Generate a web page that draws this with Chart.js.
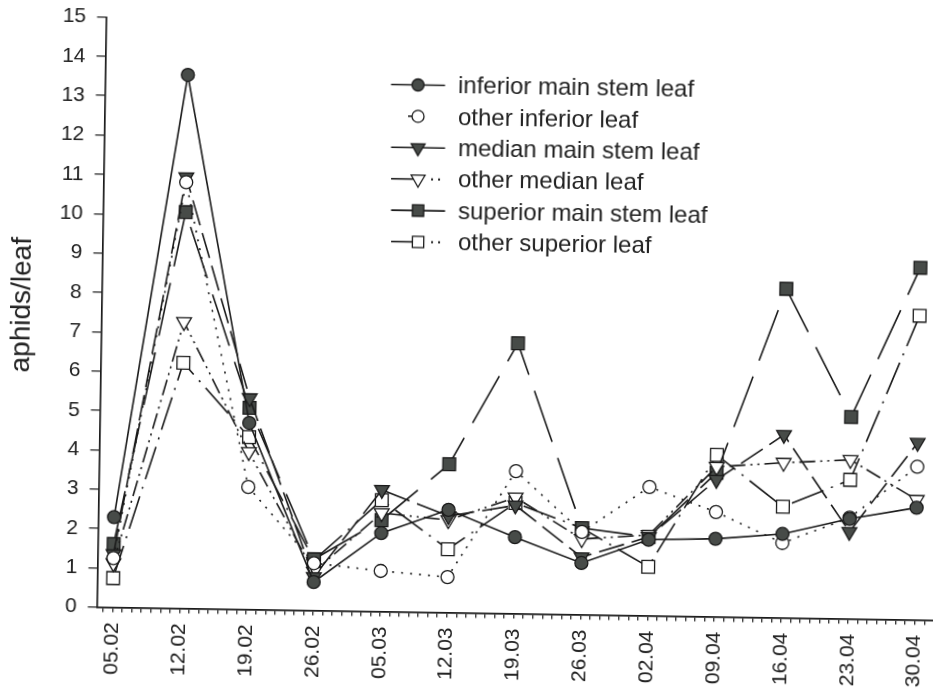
<!DOCTYPE html>
<html>
<head>
<meta charset="utf-8">
<script src="https://cdn.jsdelivr.net/npm/chart.js@4.4.1/dist/chart.umd.min.js"></script>
<style>
  html, body { margin: 0; padding: 0; background: #fff; }
  #wrap { position: relative; width: 933px; height: 695px; overflow: hidden; background: #fff; }
  /* the scanned original is turned a little clockwise */
  #chart { position: absolute; left: 0; top: 0; transform: rotate(0.9deg); transform-origin: 515px 312px; }
</style>
</head>
<body>
<div id="wrap"><canvas id="chart" width="950" height="695"></canvas></div>
<script>
// Sampling dates (one per week, day 0 = 05.02)
const dates = ['05.02', '12.02', '19.02', '26.02', '05.03', '12.03', '19.03', '26.03', '02.04', '09.04', '16.04', '23.04', '30.04'];
const yTicks = [0, 15];

// aphids per leaf
const inferiorMain  = [2.29, 13.56, 4.74, 0.72, 1.99, 2.61, 1.94, 1.31, 1.93, 1.98, 2.13, 2.54, 2.85];
const otherInferior = [1.25, 10.83, 3.11, 1.20, 1.03, 0.90, 3.62, 2.10, 3.27, 2.66, 1.90, 2.57, 3.89];
const medianMain    = [1.35, 10.96, 5.37, 0.85, 3.09, 2.45, 2.75, 1.46, 2.00, 3.48, 4.65, 2.21, 4.50];
const otherMedian   = [1.12, 7.28, 4.00, 0.98, 2.50, 2.35, 2.95, 1.92, 2.05, 3.81, 3.94, 4.04, 3.05];
const superiorMain  = [1.61, 10.07, 5.12, 1.30, 2.32, 3.77, 6.87, 2.20, 2.00, 3.66, 8.36, 5.13, 8.95];
const otherSuperior = [0.74, 6.24, 4.38, 1.28, 2.83, 1.61, 2.81, 2.20, 1.24, 4.11, 2.82, 3.53, 7.73];

const seriesNames = ['inferior main stem leaf', 'other inferior leaf', 'median main stem leaf',
                     'other median leaf', 'superior main stem leaf', 'other superior leaf'];
const legendLines = ['solid', 'stub', 'solid', 'dots', 'solid', 'dots'];
const yTitle = 'aphids/leaf';

const DARK = '#474b48';
const INK = '#1a1a1a';
const FONT = "'Liberation Sans', Arial, sans-serif";

function points(values) {
    return values.map((v, i) => ({ x: i * 7, y: v }));
}

function series(label, values, style) {
    return Object.assign({
        label: label,
        data: points(values),
        borderColor: INK,
        borderWidth: 1.6,
        pointBorderColor: INK,
        pointBorderWidth: 1.3,
        tension: 0
    }, style);
}

const datasets = [
    series(seriesNames[0], inferiorMain, { borderDash: [], pointStyle: 'circle', pointRadius: 6.5, pointBackgroundColor: DARK }),
    series(seriesNames[1], otherInferior, { borderDash: [2, 7], pointStyle: 'circle', pointRadius: 6.5, pointBackgroundColor: '#fff' }),
    series(seriesNames[2], medianMain, { borderDash: [26, 8], pointStyle: 'triangle', pointRotation: 180, pointRadius: 8.5, pointBackgroundColor: DARK }),
    series(seriesNames[3], otherMedian, { borderDash: [16, 5, 2, 5, 2, 5], pointStyle: 'triangle', pointRotation: 180, pointRadius: 8.5, pointBackgroundColor: '#fff' }),
    series(seriesNames[4], superiorMain, { borderDash: [54, 17], pointStyle: 'rect', pointRadius: 9, pointBackgroundColor: DARK }),
    series(seriesNames[5], otherSuperior, { borderDash: [34, 8, 2, 8], pointStyle: 'rect', pointRadius: 9, pointBackgroundColor: '#fff' })
];

// Legend drawn like the original: line sample with marker, then label.
// Also the y title, which sits a bit above the middle of the axis.
const legendPlugin = {
    id: 'sampleLegend',
    afterDraw(chart) {
        const ctx = chart.ctx;
        ctx.save();
        chart.data.datasets.forEach((ds, i) => {
            const y = 86.5 + i * 31.4;
            const x = 414.5 + i * 0.5;
            ctx.strokeStyle = INK;
            ctx.lineWidth = 1.6;
            ctx.setLineDash([]);
            ctx.beginPath();
            if (legendLines[i] === 'solid') {
                ctx.moveTo(x - 27, y); ctx.lineTo(x + 27, y);
            } else if (legendLines[i] === 'stub') {
                ctx.moveTo(x - 10, y); ctx.lineTo(x - 5, y);
            } else {
                ctx.moveTo(x - 27, y); ctx.lineTo(x, y);
            }
            ctx.stroke();
            if (legendLines[i] === 'dots') {
                ctx.fillStyle = INK;
                ctx.fillRect(x + 13, y - 1, 2, 2);
                ctx.fillRect(x + 20, y - 1, 2, 2);
            }
            ctx.fillStyle = ds.pointBackgroundColor;
            ctx.strokeStyle = INK;
            ctx.lineWidth = 1.3;
            Chart.helpers.drawPoint(ctx, {
                pointStyle: ds.pointStyle,
                radius: ds.pointStyle === 'circle' ? 6 : 8,
                rotation: ds.pointRotation || 0,
                borderWidth: 1.3
            }, x, y);
            ctx.fillStyle = '#222';
            ctx.font = '24px ' + FONT;
            ctx.textAlign = 'left';
            ctx.textBaseline = 'middle';
            ctx.fillText(ds.label, x + 40, y + 1);
        });

        ctx.translate(22, 312.5);
        ctx.rotate(-Math.PI / 2);
        ctx.fillStyle = '#222';
        ctx.font = '28px ' + FONT;
        ctx.textAlign = 'center';
        ctx.textBaseline = 'middle';
        ctx.fillText(yTitle, 0, 0);
        ctx.restore();
    }
};

new Chart(document.getElementById('chart'), {
    type: 'line',
    data: { datasets: datasets },
    plugins: [legendPlugin],
    options: {
        responsive: false,
        animation: false,
        layout: { padding: { top: 23.4, left: 0, right: 0, bottom: 0 } },
        plugins: {
            legend: { display: false },
            tooltip: { enabled: false }
        },
        scales: {
            x: {
                type: 'linear',
                min: -1.66,
                max: 86.1,
                grid: { drawOnChartArea: false, color: INK, lineWidth: 1.2, tickLength: 5 },
                border: { color: INK, width: 1.7 },
                ticks: {
                    stepSize: 1,
                    autoSkip: false,
                    includeBounds: false,
                    maxRotation: 90,
                    minRotation: 90,
                    padding: 10,
                    color: '#222',
                    font: { family: FONT, size: 21 },
                    callback: (v) => (v >= 0 && v % 7 === 0) ? dates[v / 7] : ''
                },
                afterFit(scale) {
                    scale.height = 81.5;
                    scale.paddingLeft = 0;
                    scale.paddingRight = 0;
                }
            },
            y: {
                min: yTicks[0],
                max: yTicks[1],
                grid: { drawOnChartArea: false, color: INK, lineWidth: 1.2, tickLength: 9 },
                border: { color: INK, width: 1.7 },
                ticks: {
                    stepSize: 1,
                    padding: 11,
                    color: '#222',
                    font: { family: FONT, size: 21 }
                },
                afterFit(scale) {
                    scale.width = 101.5;
                    scale.paddingTop = 0;
                    scale.paddingBottom = 0;
                }
            }
        }
    }
});
</script>
</body>
</html>
